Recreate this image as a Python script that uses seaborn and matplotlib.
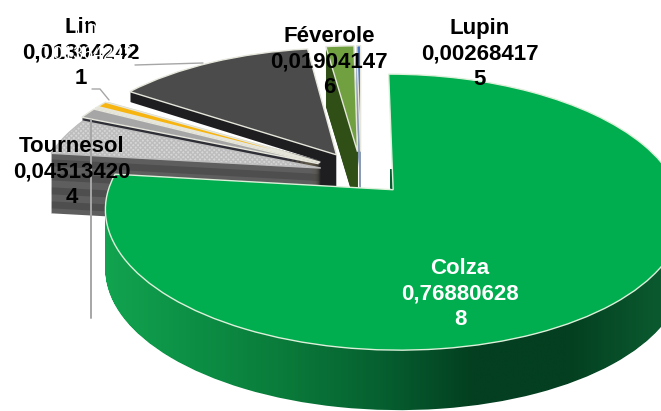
import numpy as np
import matplotlib
matplotlib.use("Agg")
import matplotlib.pyplot as plt
import seaborn as sns
from matplotlib.path import Path
from matplotlib.transforms import Transform

# slices, clockwise from 12 o'clock
names = ["Colza", "Tournesol", "Lin", "Autre1", "Autre2", "Autre3", "Autre4", "Féverole", "Lupin"]
values = [0.768806288, 0.045134204, 0.013064242, 0.0020, 0.0075, 0.0075, 0.1343, 0.019041476, 0.002684175]
top_colors = ["#00AE4F", "#D6D6D6", "#A6A6A6", "#DCDCC0", "#F7B512", "#FFFFFF", "#4B4B4B", "#70A040", "#4472C4"]
wall_colors = ["#0A7A3A", "#565656", "#2E2E36", "#B5B59A", "#C9A24A", "#D8D8C0", "#1E1E20", "#2F4F17", "#8A9BB5"]
draw_rank = [8, 7, 6, 5, 4, 3, 2, 1, 0]
explode = [0.17, 0.15, 0.17, 0.17, 0.17, 0.17, 0.17, 0.17, 0.17]

grad_colors = ["#12A550", "#0C8F45", "#0A7A3A", "#066030", "#033F20", "#033F20", "#0B5A2F"]

# label text, placed by hand as in the original
labels = ["Colza\n0,76880628\n8", "Tournesol\n0,04513420\n4", "Lin\n0,01304242\n1",
          "Féverole\n0,01904147\n6", "Lupin\n0,00268417\n5"]
label_x = [460, 72, 81, 329, 480]
label_y = [294, 172, 53, 62, 54]
label_col = ["white", "black", "black", "black", "black"]

CX, CY, A, B, K = 361, 173, 279, 129, 0.159
DEPTH = 60


class Tilt(Transform):
    input_dims = 2
    output_dims = 2

    def __init__(self, drop=0):
        super().__init__()
        self.drop = drop

    def transform_non_affine(self, xy):
        xy = np.asarray(xy)
        w = 1 + K * xy[:, 1]
        return np.column_stack([CX + A * xy[:, 0] / w, CY - B * xy[:, 1] / w + self.drop])


sns.set_theme(style="white", font="Liberation Sans")
fig = plt.figure(figsize=(6.61, 4.11), dpi=100)
ax = fig.add_axes([0, 0, 1, 1])

colza_parts = []
for drop in range(DEPTH, -1, -1):
    if drop == 0:
        cols = top_colors
    else:
        cols = list(wall_colors)
        cols[1] = "#4E4E4E" if (drop // 7) % 2 else "#5E5E5E"
    wedges, _ = ax.pie(values, colors=cols, explode=explode, startangle=90,
                       counterclock=False, labeldistance=None)
    for i, w in enumerate(wedges):
        w.set_transform(Tilt(drop) + ax.transData)
        w.set_zorder(1 + draw_rank[i] + (DEPTH - drop) / 100)
        w.set_linewidth(0)
        if drop == 0:
            w.set_edgecolor("#E6E6DC")
            w.set_linewidth(1.0)
    if drop == 0:
        wedges[1].set_hatch("xxxxxxx")
        wedges[1].set_edgecolor("#BDBDBD")
        wedges[0].set_edgecolor("#DDF0DA")
        wedges[5].set_linewidth(0)
    else:
        colza_parts.append(Tilt(drop).transform_path(wedges[0].get_path()))
        wedges[0].set_visible(False)

# shaded side of the big slice
cmap = sns.blend_palette(grad_colors, n_colors=256, as_cmap=True)
img = ax.imshow(np.linspace(0, 1, 256)[None, :], cmap=cmap, aspect="auto",
                extent=(100, 661, 411, 170), zorder=8.5)
img.set_clip_path(Path.make_compound_path(*colza_parts), ax.transData)

ax.set_aspect("auto")
ax.set_xlim(0, 661)
ax.set_ylim(411, 0)
ax.axis("off")

# leader lines
ax.plot([91, 91], [318, 120], color="#A6A6A6", lw=1.4, zorder=12)
ax.plot([92, 100, 109], [89, 89, 100], color="#A6A6A6", lw=1.0, zorder=12)
ax.plot([135, 203], [65, 63], color="#A6A6A6", lw=1.0, zorder=12)

for t, x, y, c in zip(labels, label_x, label_y, label_col):
    ax.text(x, y, t, color=c, ha="center", va="center", fontsize=16,
            fontweight="bold", linespacing=1.26, zorder=13)
# the second label sits on top of Lin in white
ax.text(86, 42, "Lin\n0,01364242", color="white", ha="center", va="center", fontsize=13,
        fontweight="normal", linespacing=1.55, zorder=14)

fig.savefig("out.png", dpi=100)
